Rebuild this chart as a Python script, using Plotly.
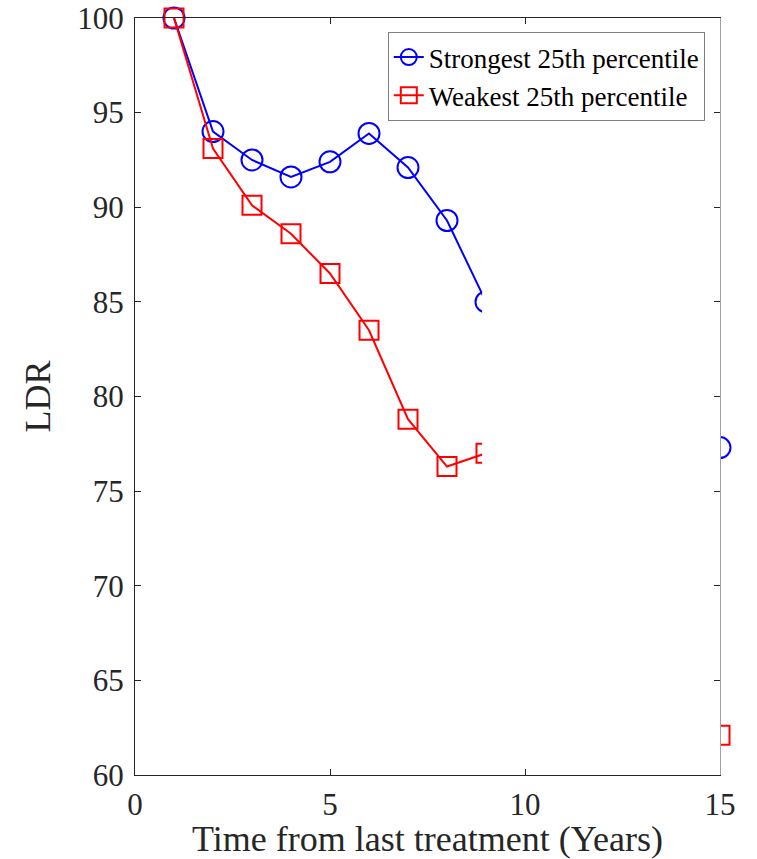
import plotly.graph_objects as go

years = [1, 2, 3, 4, 5, 6, 7, 8, 9, 15]
strongest = [100.0, 94.0, 92.5, 91.6, 92.4, 93.9, 92.1, 89.3, 85.0, 77.3]
weakest = [100.0, 93.1, 90.1, 88.6, 86.5, 83.5, 78.8, 76.3, 77.0, 62.1]
x_ticks = [0, 5, 10, 15]
y_ticks = [60, 65, 70, 75, 80, 85, 90, 95, 100]
gap_x = [8.9, 15, 15, 8.9]
gap_y = [60, 60, 100, 100]

FONT = "Liberation Serif"
TXT = "#262626"

fig = go.Figure()
fig.add_trace(go.Scatter(
    x=years, y=strongest, mode="lines+markers", name="Strongest 25th percentile",
    line=dict(color="#0000ff", width=2),
    marker=dict(symbol="circle-open", size=21, color="#0000ff", line=dict(width=2)),
    cliponaxis=False,
))
fig.add_trace(go.Scatter(
    x=years, y=weakest, mode="lines+markers", name="Weakest 25th percentile",
    line=dict(color="#ff0000", width=2),
    marker=dict(symbol="square-open", size=19, color="#ff0000", line=dict(width=2)),
    cliponaxis=False,
))
# white mask hiding the interval between the two panels
fig.add_trace(go.Scatter(
    x=gap_x, y=gap_y, mode="lines", fill="toself", fillcolor="white",
    line=dict(width=0, color="white"), showlegend=False, hoverinfo="skip",
    yaxis="y2",
))

fig.update_layout(
    width=757, height=859,
    margin=dict(l=135, r=37, t=18, b=84),
    paper_bgcolor="white", plot_bgcolor="white",
    font=dict(family=FONT, color=TXT, size=31),
    showlegend=True,
    legend=dict(
        x=0.974, y=0.9815, xanchor="right", yanchor="top",
        bgcolor="white", bordercolor="#7f7f7f", borderwidth=1,
        font=dict(family=FONT, size=27, color="black"),
        tracegroupgap=0, itemwidth=30,
    ),
    xaxis=dict(
        range=[0, 15], tickvals=x_ticks, showgrid=False, zeroline=False,
        showline=True, linecolor=TXT, linewidth=1, mirror="ticks",
        ticks="inside", ticklen=6, tickcolor=TXT, automargin=False,
        ticklabelstandoff=2,
        tickfont=dict(size=31, family=FONT, color=TXT),
        title=dict(text="Time from last treatment (Years)", font=dict(size=36, family=FONT, color=TXT), standoff=2),
    ),
    yaxis=dict(
        range=[60, 100], tickvals=y_ticks, showgrid=False, zeroline=False,
        showline=True, linecolor=TXT, linewidth=1, mirror=False,
        ticks="inside", ticklen=6, tickcolor=TXT, automargin=False,
        ticklabelstandoff=4, ticklabeloverflow="allow",
        tickfont=dict(size=31, family=FONT, color=TXT),
        title=dict(text="LDR", font=dict(size=36, family=FONT, color=TXT), standoff=15),
    ),
    yaxis2=dict(
        range=[60, 100], tickvals=y_ticks, overlaying="y", side="right",
        showgrid=False, zeroline=False, showticklabels=False,
        showline=True, linecolor="#a0a0a0", linewidth=1, automargin=False,
        ticks="inside", ticklen=6, tickcolor=TXT,
    ),
)

fig.write_html(
    "out.html",
    config={"displayModeBar": False},
    post_script="document.body.style.margin='0';document.body.style.overflow='hidden';",
)
